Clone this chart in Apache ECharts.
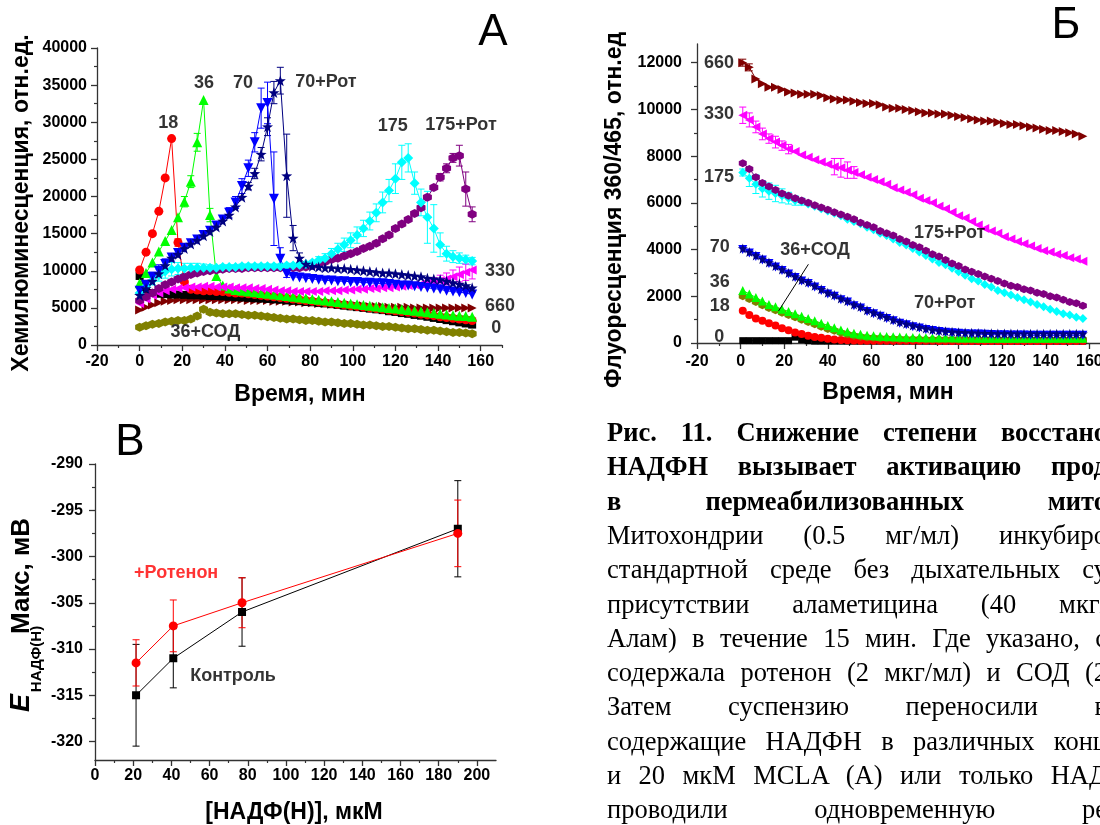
<!DOCTYPE html>
<html>
<head>
<meta charset="utf-8">
<script src="https://cdn.jsdelivr.net/npm/echarts@6/dist/echarts.min.js"></script>
<style>
  html, body { margin: 0; padding: 0; width: 1100px; height: 825px; overflow: hidden; background: #fff; }
  #chart { position: absolute; left: 0; top: 0; width: 1100px; height: 825px; }
  #caption { position: absolute; left: 0; top: 0; width: 1100px; height: 825px; overflow: hidden; pointer-events: none;
             font-family: 'Liberation Serif', 'Times New Roman', serif; font-size: 26.5px; color: #000; }
  #caption .ln { position: absolute; left: 607px; width: 500px; line-height: 30px; white-space: nowrap;
                 text-align: justify; text-align-last: justify; }
  #caption .b { font-weight: bold; }
</style>
</head>
<body>
<div id="chart"></div>
<div id="caption">
  <div class="ln b" style="top:417px">Рис. 11. Снижение степени восстано</div>
  <div class="ln b" style="top:451.3px">НАДФН вызывает активацию прод</div>
  <div class="ln b" style="top:485.6px">в пермеабилизованных мито</div>
  <div class="ln" style="top:519.9px">Митохондрии (0.5 мг/мл) инкубиро</div>
  <div class="ln" style="top:554.2px">стандартной среде без дыхательных су</div>
  <div class="ln" style="top:588.5px">присутствии аламетицина (40 мкг/</div>
  <div class="ln" style="top:622.8px">Алам) в течение 15 мин. Где указано, с</div>
  <div class="ln" style="top:657.1px">содержала ротенон (2 мкг/мл) и СОД (2</div>
  <div class="ln" style="top:691.4px">Затем суспензию переносили в</div>
  <div class="ln" style="top:725.7px">содержащие НАДФН в различных конц</div>
  <div class="ln" style="top:760px">и 20 мкМ MCLA (А) или только НАД</div>
  <div class="ln" style="top:794.3px">проводили одновременную ре</div>
</div>
<script>
// ---------- Panel A: chemiluminescence vs time ----------
const timeA = [0,3,6,9,12,15,18,21,24,27,30,33,36,39,42,45,48,51,54,57,60,63,66,69,72,75,78,81,84,87,90,93,96,99,102,105,108,111,114,117,120,123,126,129,132,135,138,141,144,147,150,153,156];

const clA_0 = [9300,7200,7000,6900,6850,6800,6800,6750,6700,6700,
  6650,6600,6600,6550,6500,6450,6400,6350,6300,6250,
  6200,6150,6100,6000,5950,5900,5800,5750,5650,5600,
  5500,5400,5300,5200,5100,5000,4900,4800,4700,4550,
  4450,4300,4200,4050,3950,3800,3650,3500,3350,3200,
  3050,2900,2750];
const clA_18 = [10100,12500,15000,18000,22500,27800,13800,8500,7500,7400,
  7300,7300,7200,7200,7100,7000,7000,6900,6800,6700,
  6600,6500,6400,6300,6200,6100,6000,5900,5800,5700,
  5600,5500,5400,5300,5200,5100,5000,4900,4800,4700,
  4600,4500,4400,4300,4150,4050,3950,3800,3700,3600,
  3500,3400,3300];
const clA_36 = [8300,9700,11100,12600,14000,15500,17200,19300,22000,27300,
  33000,17500,9300,8000,7600,7400,7300,7200,7100,7000,
  6900,6800,6700,6600,6500,6400,6300,6200,6100,6000,
  5900,5800,5700,5600,5500,5400,5300,5200,5100,5000,
  4900,4800,4700,4600,4500,4400,4300,4200,4100,4000,
  3950,3900,3800];
const clA_70 = [7300,8100,9200,10000,10900,11800,12400,13100,13700,14200,
  14800,15400,16100,16900,17800,19200,21400,23800,27300,31900,
  32600,19700,11600,9600,9200,9100,9000,8900,8800,8700,
  8700,8600,8600,8500,8500,8400,8400,8300,8300,8200,
  8100,8000,8000,7900,7800,7700,7600,7500,7300,7200,
  7100,7000,6800];
const clA_70rot = [6700,7600,8600,9600,10700,11700,12200,13000,13600,14100,
  14700,15300,15900,16700,17500,18600,19900,21400,23100,25700,
  29400,34000,35600,22800,14400,11700,10900,10600,10500,10400,
  10400,10300,10300,10200,10100,10000,9900,9800,9700,9700,
  9600,9500,9400,9300,9200,9000,8900,8800,8600,8400,
  8200,8000,7700];
const clA_175 = [7000,7900,8700,9400,9900,10200,10300,10300,10400,10400,
  10400,10400,10400,10500,10500,10500,10600,10600,10600,10600,
  10600,10600,10600,10700,10700,10800,10900,11100,11400,11700,
  12300,12900,13500,14100,14800,15700,16700,17800,19200,20800,
  22400,24600,25200,21800,19200,17200,15700,13500,12300,11900,
  11700,11500,11300];
const clA_175rot = [6000,6500,7000,7600,8100,8500,8900,9200,9500,9700,
  9900,10000,10100,10200,10300,10300,10300,10400,10400,10400,
  10400,10400,10400,10400,10400,10400,10500,10700,10900,11200,
  11500,11700,12000,12300,12600,13000,13300,13700,14300,14800,
  15700,16300,16900,17700,18500,19900,21200,22600,23800,25200,
  25500,21000,17600];
const clA_330 = [5600,6200,6700,7000,7300,7500,7600,7700,7800,7800,
  7900,7900,7800,7800,7800,7700,7700,7700,7600,7600,
  7500,7400,7300,7300,7200,7200,7200,7200,7200,7300,
  7300,7300,7400,7400,7500,7500,7600,7600,7700,7700,
  7800,7900,8000,8100,8200,8400,8500,8700,8900,9200,
  9500,9800,10100];
const clA_660 = [4700,5100,5400,5700,5900,6000,6100,6100,6100,6100,
  6100,6100,6100,6100,6100,6100,6100,6000,6000,6000,
  6000,5900,5900,5900,5800,5800,5700,5700,5600,5600,
  5500,5500,5400,5400,5300,5300,5200,5200,5200,5100,
  5100,5100,5100,5000,5000,5000,5000,5000,5000,5000,
  5000,5000,5000];
const clA_36sod = [2400,2600,2800,2900,3100,3200,3300,3300,3500,3900,
  4800,4400,4300,4200,4200,4200,4100,4000,4000,3900,
  3800,3700,3600,3500,3500,3400,3300,3300,3200,3100,
  3100,3000,2900,2900,2800,2700,2700,2600,2500,2500,
  2400,2300,2200,2200,2100,2000,2000,1900,1800,1700,
  1700,1600,1500];

// error bars, [time, half-width]
const errA_18 = [[18,500]];
const errA_36 = [[21,700],[24,800],[27,1200],[33,900],[36,500]];
const errA_70 = [[6,600],[9,800],[12,700],[15,500],[42,700],[45,800],[48,1000],[51,1100],[54,1300],[57,2700],[60,2800],[63,6300],[66,1500],[69,500]];
const errA_70rot = [[51,500],[54,700],[57,900],[60,1200],[63,1500],[66,1800],[69,5600],[72,1700],[75,700]];
const errA_175 = [[6,600],[9,800],[12,900],[15,900],[18,800],[21,700],[24,600],[27,600],[30,500],[33,400],[36,300],[39,300],[42,300],[45,300],[48,300],[51,300],[54,300],[57,300],[60,300],[63,300],[66,300],[69,300],[72,300],[75,300],[78,300],[81,300],[84,500],[87,600],[90,700],[93,800],[96,900],[99,1000],[102,1100],[105,1100],[108,1200],[111,1200],[114,1400],[117,1500],[120,2000],[123,2300],[126,1900],[129,1500],[132,1800],[135,3500],[138,3200],[141,1600],[144,1000],[147,800],[150,700],[153,600],[156,500]];
const errA_175rot = [[141,500],[144,600],[147,600],[150,1400],[153,2300],[156,1000]];
const errA_330 = [[9,400],[12,400],[138,600],[141,700],[144,800],[147,900],[150,1000],[153,1100],[156,1200]];

const labelsA = [
  [13.4, 29900, '18', 'center'], [30.2, 35300, '36', 'center'], [48.5, 35300, '70', 'center'],
  [73, 35400, '70+Рот', 'left'], [118.7, 29500, '175', 'center'], [134, 29600, '175+Рот', 'left'],
  [162, 10000, '330', 'left'], [162, 5200, '660', 'left'], [165, 2300, '0', 'left'],
  [14.5, 1700, '36+СОД', 'left']
];
const ticksAx = [-20,0,20,40,60,80,100,120,140,160];
const minorAx = [-10,10,30,50,70,90,110,130,150,170];
const ticksAy = [0,5000,10000,15000,20000,25000,30000,35000,40000];
const minorAy = [2500,7500,12500,17500,22500,27500,32500,37500];

// ---------- Panel Б: fluorescence 360/465 vs time ----------
const timeB = [1,4,7,10,13,16,19,22,25,28,31,34,37,40,43,46,49,52,55,58,61,64,67,70,73,76,79,82,85,88,91,94,97,100,103,106,109,112,115,118,121,124,127,130,133,136,139,142,145,148,151,154,157];

const flB_660 = [12000,11800,11300,11100,10950,10950,10850,10750,10700,10650,
  10650,10650,10600,10500,10450,10400,10400,10350,10300,10250,
  10250,10200,10100,10050,10050,10000,9950,9900,9850,9850,
  9800,9800,9750,9700,9650,9600,9550,9500,9500,9450,
  9400,9350,9350,9300,9250,9200,9150,9100,9100,9050,
  9000,8950,8850];
const flB_330 = [9750,9550,9250,8950,8750,8600,8450,8300,8200,8050,
  7950,7850,7750,7650,7550,7500,7400,7300,7200,7100,
  7000,6900,6800,6650,6550,6450,6350,6200,6100,6000,
  5850,5750,5600,5450,5350,5200,5050,4900,4800,4700,
  4550,4450,4350,4250,4150,4050,3950,3900,3800,3750,
  3650,3600,3500];
const flB_175rot = [7700,7450,7100,6850,6700,6550,6400,6300,6200,6100,
  6000,5900,5800,5700,5600,5500,5400,5300,5150,5050,
  4950,4800,4700,4600,4450,4350,4200,4100,3950,3800,
  3700,3550,3400,3300,3150,3050,2950,2850,2750,2650,
  2550,2450,2400,2300,2250,2150,2100,2000,1950,1850,
  1750,1700,1600];
const flB_175 = [7300,7050,6800,6600,6500,6400,6300,6200,6100,6050,
  5950,5850,5750,5650,5550,5450,5300,5200,5100,4950,
  4850,4700,4600,4450,4300,4200,4050,3900,3750,3600,
  3450,3350,3200,3050,2900,2750,2650,2500,2400,2250,
  2150,2050,1950,1850,1750,1650,1550,1450,1350,1250,
  1200,1100,1050];
const flB_70rot = [4050,3900,3750,3600,3450,3300,3150,3000,2850,2700,
  2600,2450,2300,2150,2050,1900,1800,1650,1550,1400,
  1300,1200,1100,1000,900,820,750,680,620,570,
  530,500,480,460,450,440,430,420,420,410,
  410,410,400,400,400,400,400,400,400,400,
  400,400,400];
const flB_70 = [4000,3850,3700,3550,3400,3250,3100,2950,2800,2650,
  2550,2400,2250,2100,2000,1850,1750,1600,1500,1350,
  1250,1150,1050,950,850,780,700,640,580,530,
  490,460,440,420,400,390,380,370,360,350,
  350,340,340,340,330,330,330,330,330,330,
  330,330,330];
const flB_36 = [2250,2100,1950,1800,1650,1550,1450,1350,1250,1150,
  1050,950,850,750,650,560,480,420,370,330,
  310,290,280,270,260,250,240,240,230,230,
  220,220,220,210,210,210,200,200,200,200,
  200,200,200,200,200,200,200,200,200,200,
  200,200,200];
const flB_36sod = [2000,1880,1750,1620,1500,1400,1300,1200,1100,1000,
  900,800,700,600,520,440,370,310,270,240,
  220,200,190,180,170,160,160,160,150,150,
  150,150,150,150,150,150,150,150,150,150,
  150,150,150,150,150,150,150,150,150,150,
  150,150,150];
const flB_18 = [1380,1200,1050,950,850,750,630,550,450,380,
  310,260,220,180,150,130,120,110,100,100,
  100,100,100,100,100,100,100,100,100,100,
  90,90,90,90,90,90,90,90,90,90,
  90,90,90,90,90,90,90,90,90,90,
  90,90,90];
const flB_0 = [100,100,100,100,100,100,100,100,250,150,
  100,80,80,80,80,80,80,80,80,80,
  80,80,80,80,80,80,80,80,80,80,
  80,80,80,80,80,80,80,80,80,80,
  80,80,80,80,80,80,80,80,80,80,
  80,80,80];

const errB_660 = [[1,150],[4,150]];
const errB_330 = [[1,350],[4,300],[7,250],[10,250],[13,200],[16,250],[19,200],[22,200],[43,350],[46,400],[49,350],[52,250]];
const errB_175 = [[1,150],[4,350],[7,400],[10,350],[13,350],[16,350],[19,300],[22,250],[25,200],[28,150]];

const labelsB = [
  [-3, 12000, '660', 'right'], [-3, 9800, '330', 'right'], [-3, 7100, '175', 'right'],
  [-5, 4100, '70', 'right'], [-5, 2600, '36', 'right'], [-5, 1600, '18', 'right'],
  [-7.5, 260, '0', 'right'], [18.2, 4000, '36+СОД', 'left'],
  [79.5, 4700, '175+Рот', 'left'], [79.5, 1700, '70+Рот', 'left']
];
const pointerB = [[31.1, 3370], [17.4, 1370]];
const ticksBx = [-20,0,20,40,60,80,100,120,140,160,180];
const minorBx = [-10,10,30,50,70,90,110,130,150,170];
const ticksBy = [0,2000,4000,6000,8000,10000,12000];
const minorBy = [1000,3000,5000,7000,9000,11000];

// ---------- Panel В: E(NADP(H)) max vs [NADP(H)] ----------
const nadph = [21.5, 41, 77, 190];
const eControl = [-315, -311, -306, -297];
const eControlErr = [5.5, 3.2, 3.7, 5.2];
const eRotenone = [-311.5, -307.5, -305, -297.5];
const eRotenoneErr = [2.5, 2.8, 2.7, 3.6];
const labelsC = [[42.5, -301.8, '+Ротенон', 'center', '#ff0000'], [72.3, -312.9, 'Контроль', 'center', '#000000']];
const ticksCx = [0,20,40,60,80,100,120,140,160,180,200];
const minorCx = [10,30,50,70,90,110,130,150,170,190];
const ticksCy = [-320,-315,-310,-305,-300,-295,-290];
const minorCy = [-317.5,-312.5,-307.5,-302.5,-297.5,-292.5];

// ---------- helpers ----------
const SANS = "'Liberation Sans', Arial, sans-serif";
const AXC = '#333333';

const SYM = {
  star: 'path://M0,-10 L2.35,-3.24 L9.51,-3.09 L3.8,1.24 L5.88,8.09 L0,4 L-5.88,8.09 L-3.8,1.24 L-9.51,-3.09 L-2.35,-3.24 Z',
  hex: 'path://M0,-10 L8.66,-5 L8.66,5 L0,10 L-8.66,5 L-8.66,-5 Z'
};

function axisPair(dim, gridIndex, min, max, majors, minors, margin) {
  const base = { type: 'value', gridIndex, min, max, position: dim === 'x' ? 'bottom' : 'left',
                 splitLine: { show: false }, scale: false };
  const major = Object.assign({}, base, {
    axisLine: { show: true, onZero: false, lineStyle: { color: AXC, width: 1.3 } },
    axisTick: { show: true, length: 6, customValues: majors, lineStyle: { color: AXC, width: 1.3 } },
    axisLabel: { show: true, customValues: majors, margin, color: '#000', fontFamily: SANS,
                 fontWeight: 'bold', fontSize: 16, hideOverlap: false, formatter: v => String(v) }
  });
  const minor = Object.assign({}, base, {
    axisLine: { show: false, onZero: false },
    axisTick: { show: true, length: 3, customValues: minors, lineStyle: { color: AXC, width: 1.2 } },
    axisLabel: { show: false }
  });
  return [major, minor];
}

function lineSeries(ax, ts, vs, color, symbol, size, rotate) {
  return {
    type: 'line', xAxisIndex: ax, yAxisIndex: ax, data: ts.map((t, i) => [t, vs[i]]),
    symbol, symbolSize: size, symbolRotate: rotate || 0, showSymbol: true, showAllSymbol: true,
    lineStyle: { color, width: 1 }, itemStyle: { color, borderWidth: 0 },
    emphasis: { disabled: true }, silent: true, z: 3, clip: false
  };
}

function renderErr(params, api) {
  const x = api.value(0), lo = api.value(1), hi = api.value(2);
  const a = api.coord([x, hi]), b = api.coord([x, lo]);
  const w = 3.5;
  const style = { stroke: api.visual('color'), lineWidth: 1, fill: null };
  return { type: 'group', children: [
    { type: 'line', shape: { x1: a[0], y1: a[1], x2: b[0], y2: b[1] }, style },
    { type: 'line', shape: { x1: a[0] - w, y1: a[1], x2: a[0] + w, y2: a[1] }, style },
    { type: 'line', shape: { x1: b[0] - w, y1: b[1], x2: b[0] + w, y2: b[1] }, style }
  ]};
}

function errSeries(ax, ts, vs, errs, color) {
  const data = errs.map(([t, e]) => { const v = vs[ts.indexOf(t)]; return [t, v - e, v + e]; });
  return { type: 'custom', xAxisIndex: ax, yAxisIndex: ax, data, itemStyle: { color },
           renderItem: renderErr, silent: true, z: 2, encode: { x: 0, y: [1, 2] } };
}

function labelSeries(ax, list, size) {
  return {
    type: 'scatter', xAxisIndex: ax, yAxisIndex: ax, symbolSize: 0, silent: true, z: 10,
    itemStyle: { color: 'transparent' },
    data: list.map(a => ({ value: [a[0], a[1]], label: {
      show: true, formatter: a[2], position: 'inside', align: a[3], verticalAlign: 'middle',
      color: a[4] || '#000', fontSize: size, fontWeight: 'bold', fontFamily: SANS } }))
  };
}

// axis indices: A -> 0, Б -> 2, В -> 4 (odd ones carry minor ticks)
const xAxes = [].concat(
  axisPair('x', 0, -20, 170, ticksAx, minorAx, 9),
  axisPair('x', 1, -20, 180, ticksBx, minorBx, 11),
  axisPair('x', 2, 0, 210, ticksCx, minorCx, 8)
);
const yAxes = [].concat(
  axisPair('y', 0, 0, 40000, ticksAy, minorAy, 10),
  axisPair('y', 1, 0, 12800, ticksBy, minorBy, 15),
  axisPair('y', 2, -322, -290, ticksCy, minorCy, 12)
);

const C = { black: '#000000', red: '#ff0000', green: '#00ff00', blue: '#0000ff', navy: '#000080',
            cyan: '#00ffff', purple: '#800080', magenta: '#ff00ff', maroon: '#800000', olive: '#808000' };

const series = [
  // Panel A
  errSeries(0, timeA, clA_18, errA_18, C.red),
  errSeries(0, timeA, clA_36, errA_36, C.green),
  errSeries(0, timeA, clA_70, errA_70, C.blue),
  errSeries(0, timeA, clA_70rot, errA_70rot, C.navy),
  errSeries(0, timeA, clA_175, errA_175, C.cyan),
  errSeries(0, timeA, clA_175rot, errA_175rot, C.purple),
  errSeries(0, timeA, clA_330, errA_330, C.magenta),
  lineSeries(0, timeA, clA_36sod, C.olive, SYM.hex, 9),
  lineSeries(0, timeA, clA_660, C.maroon, 'triangle', 9, -90),
  lineSeries(0, timeA, clA_0, C.black, 'rect', 8),
  lineSeries(0, timeA, clA_18, C.red, 'circle', 9),
  lineSeries(0, timeA, clA_36, C.green, 'triangle', 10),
  lineSeries(0, timeA, clA_330, C.magenta, 'triangle', 9, 90),
  lineSeries(0, timeA, clA_175rot, C.purple, SYM.hex, 9),
  lineSeries(0, timeA, clA_175, C.cyan, 'diamond', 10),
  lineSeries(0, timeA, clA_70, C.blue, 'triangle', 10, 180),
  lineSeries(0, timeA, clA_70rot, C.navy, SYM.star, 11),
  labelSeries(0, labelsA, 18),

  // Panel Б
  errSeries(2, timeB, flB_660, errB_660, C.maroon),
  errSeries(2, timeB, flB_330, errB_330, C.magenta),
  errSeries(2, timeB, flB_175, errB_175, C.cyan),
  lineSeries(2, timeB, flB_0, C.black, 'rect', 7),
  lineSeries(2, timeB, flB_18, C.red, 'circle', 8),
  lineSeries(2, timeB, flB_36sod, C.olive, SYM.hex, 8),
  lineSeries(2, timeB, flB_36, C.green, 'triangle', 9),
  lineSeries(2, timeB, flB_70, C.blue, 'triangle', 9, 180),
  lineSeries(2, timeB, flB_70rot, C.navy, SYM.star, 10),
  lineSeries(2, timeB, flB_175, C.cyan, 'diamond', 9),
  lineSeries(2, timeB, flB_175rot, C.purple, SYM.hex, 8),
  lineSeries(2, timeB, flB_330, C.magenta, 'triangle', 9, 90),
  lineSeries(2, timeB, flB_660, C.maroon, 'triangle', 9, -90),
  { type: 'line', xAxisIndex: 2, yAxisIndex: 2, data: pointerB, symbol: 'none',
    lineStyle: { color: '#000', width: 1 }, silent: true, z: 9 },
  labelSeries(2, labelsB, 18),

  // Panel В
  { type: 'custom', xAxisIndex: 4, yAxisIndex: 4, renderItem: renderErr, silent: true, z: 2,
    itemStyle: { color: C.black }, encode: { x: 0, y: [1, 2] },
    data: nadph.map((x, i) => [x, eControl[i] - eControlErr[i], eControl[i] + eControlErr[i]]) },
  { type: 'custom', xAxisIndex: 4, yAxisIndex: 4, renderItem: renderErr, silent: true, z: 2,
    itemStyle: { color: C.red }, encode: { x: 0, y: [1, 2] },
    data: nadph.map((x, i) => [x, eRotenone[i] - eRotenoneErr[i], eRotenone[i] + eRotenoneErr[i]]) },
  lineSeries(4, nadph, eControl, C.black, 'rect', 8),
  lineSeries(4, nadph, eRotenone, C.red, 'circle', 9),
  labelSeries(4, labelsC, 18)
];

function txt(x, y, text, size, opts) {
  return Object.assign({ type: 'text', x, y, silent: true, z: 20,
    style: Object.assign({ text, fill: '#000', fontFamily: SANS, fontSize: size, fontWeight: 'bold',
                           align: 'center', verticalAlign: 'middle' }, (opts && opts.style) || {}) },
    (opts && opts.rotation !== undefined) ? { rotation: opts.rotation } : {});
}
const UP = Math.PI / 2;

const graphics = [
  // panel letters
  txt(493, 33, 'A', 44, { style: { fontWeight: 'normal' } }),
  txt(1066, 26, 'Б', 44, { style: { fontWeight: 'normal' } }),
  txt(130, 443, 'В', 44, { style: { fontWeight: 'normal' } }),
  // axis titles
  txt(22, 203, 'Хемилюминесценция, отн.ед.', 23, { rotation: UP }),
  txt(300, 395, 'Время, мин', 23),
  txt(615, 210, 'Флуоресценция 360/465, отн.ед', 23, { rotation: UP }),
  txt(888, 393, 'Время, мин', 23),
  txt(294, 813, '[НАДФ(Н)], мкМ', 23),
  txt(22, 703, 'E', 27, { rotation: UP, style: { fontStyle: 'italic' } }),
  txt(37, 659, 'НАДФ(Н)', 15, { rotation: UP }),
  txt(22, 576, 'Макс, мВ', 26, { rotation: UP })
];

const chart = echarts.init(document.getElementById('chart'), null, { renderer: 'canvas' });
chart.setOption({
  animation: false,
  backgroundColor: '#ffffff',
  grid: [
    { left: 97, top: 48, width: 405, height: 297, outerBoundsMode: 'none', containLabel: false },
    { left: 697, top: 44, width: 436, height: 299, outerBoundsMode: 'none', containLabel: false },
    { left: 95, top: 464, width: 401, height: 296, outerBoundsMode: 'none', containLabel: false }
  ],
  xAxis: xAxes,
  yAxis: yAxes,
  series,
  graphic: { elements: graphics }
});
</script>
</body>
</html>
